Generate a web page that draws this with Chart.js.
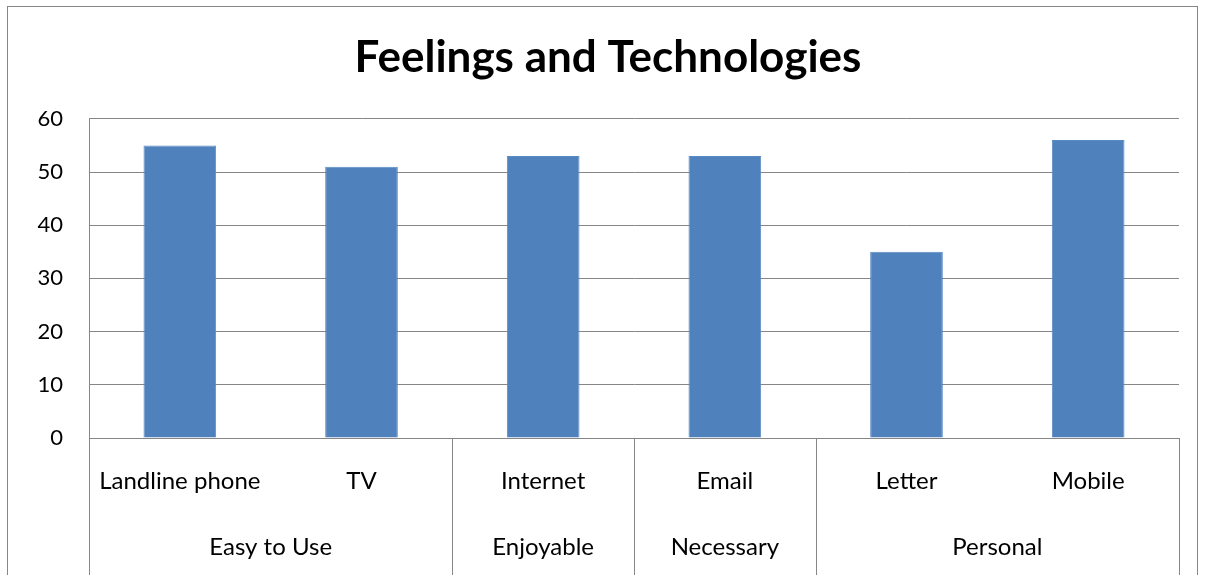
<!DOCTYPE html>
<html>
<head>
<meta charset="utf-8">
<script src="https://cdn.jsdelivr.net/npm/chart.js@4"></script>
<style>
  html, body { margin: 0; padding: 0; background: #fff; }
  #wrap { width: 1206px; height: 575px; position: relative; }
</style>
</head>
<body>
<div id="wrap"><canvas id="c" width="1206" height="575"></canvas></div>
<script>
const categories = ['Landline phone', 'TV', 'Internet', 'Email', 'Letter', 'Mobile'];
const categoryGroups = ['Easy to Use', 'Easy to Use', 'Enjoyable', 'Necessary', 'Personal', 'Personal'];
const values = [55, 51, 53, 53, 35, 56];
const yTickMin = 0;
const yTickMax = 60;
const yTickStep = 10;
const chartTitle = 'Feelings and Technologies';

const FONT = 'Lato, "Open Sans", sans-serif';
const GRID = '#868686';

const groupAxisPlugin = {
  id: 'groupAxis',
  afterDraw(chart) {
    const ctx = chart.ctx;
    const x = chart.scales.x;
    const area = chart.chartArea;
    const half = (x.getPixelForValue(1) - x.getPixelForValue(0)) / 2;
    const bottom = chart.height;
    ctx.save();
    // outer frame
    ctx.strokeStyle = GRID;
    ctx.lineWidth = 1;
    ctx.strokeRect(7.5, 6.5, chart.width - 16, chart.height + 20);
    // group boundaries and labels
    const groups = [];
    categoryGroups.forEach((g, i) => {
      if (!groups.length || groups[groups.length - 1].name !== g) {
        groups.push({ name: g, start: i, end: i });
      } else {
        groups[groups.length - 1].end = i;
      }
    });
    const bounds = new Set();
    groups.forEach(g => {
      bounds.add(Math.round(x.getPixelForValue(g.start) - half));
      bounds.add(Math.round(x.getPixelForValue(g.end) + half));
    });
    bounds.forEach(b => {
      ctx.beginPath();
      ctx.moveTo(b + 0.5, area.bottom);
      ctx.lineTo(b + 0.5, bottom);
      ctx.stroke();
    });
    ctx.fillStyle = '#000';
    ctx.font = '24px ' + FONT;
    ctx.textAlign = 'center';
    ctx.textBaseline = 'middle';
    groups.forEach(g => {
      const cx = (x.getPixelForValue(g.start) - half + x.getPixelForValue(g.end) + half) / 2;
      ctx.fillText(g.name, cx, 547);
    });
    ctx.restore();
  }
};

new Chart(document.getElementById('c'), {
  type: 'bar',
  data: {
    labels: categories,
    datasets: [{
      data: values,
      backgroundColor: '#4F81BD',
      borderColor: '#5A8AC4',
      borderWidth: 1,
      categoryPercentage: 1.0,
      barPercentage: 0.4
    }]
  },
  options: {
    responsive: false,
    animation: false,
    devicePixelRatio: 1,
    layout: { padding: { left: 10, right: 0, top: 0, bottom: 0 } },
    plugins: {
      legend: { display: false },
      tooltip: { enabled: false },
      title: {
        display: true,
        text: chartTitle,
        color: '#000',
        font: { family: FONT, size: 44, weight: 'bold' },
        padding: { top: 31, bottom: 35 }
      }
    },
    scales: {
      x: {
        grid: { display: false, drawTicks: false },
        border: { display: true, color: GRID, width: 1 },
        ticks: { color: '#000', font: { family: FONT, size: 24 }, padding: 29, maxRotation: 0, autoSkip: false },
        afterFit(scale) { scale.height = 137; }
      },
      y: {
        min: yTickMin,
        max: yTickMax,
        grid: { color: GRID, drawTicks: false, lineWidth: 1 },
        border: { display: true, color: GRID, width: 1 },
        ticks: { stepSize: yTickStep, color: '#000', font: { family: FONT, size: 22 }, padding: 26 },
        afterFit(scale) { scale.width = 79; }
      },
      yRightSpace: {
        type: 'linear',
        position: 'right',
        display: true,
        grid: { display: false, drawTicks: false },
        border: { display: false },
        ticks: { display: false },
        afterFit(scale) { scale.width = 27; }
      }
    }
  },
  plugins: [groupAxisPlugin]
});
</script>
</body>
</html>
